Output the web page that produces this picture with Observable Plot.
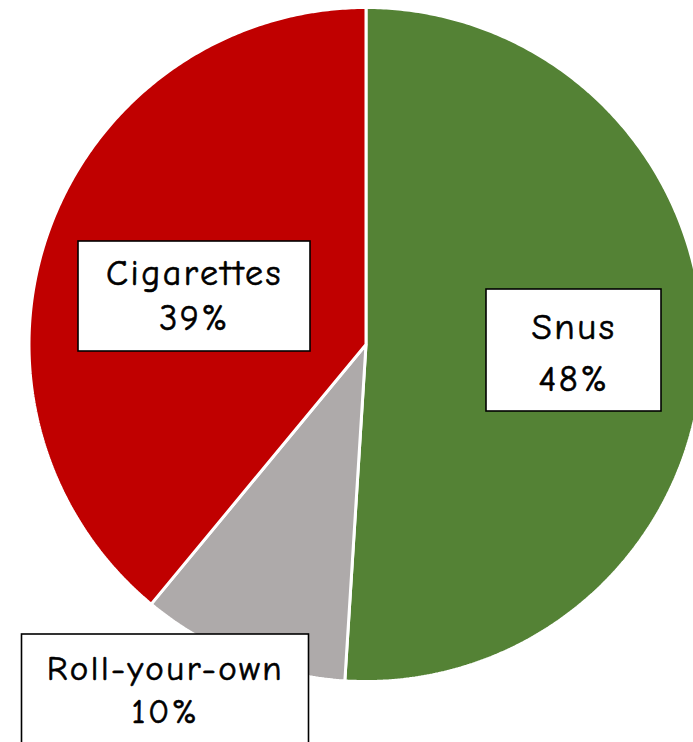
<!DOCTYPE html>
<html><head><meta charset="utf-8">
<script src="https://cdn.jsdelivr.net/npm/d3@7"></script>
<script src="https://cdn.jsdelivr.net/npm/@observablehq/plot@0.6"></script>
<style>body{margin:0;background:#fff;overflow:hidden}</style>
</head><body><div id="chart"></div>
<script>
// ---- data ----
const categories = ["Snus", "Roll-your-own", "Cigarettes"];
const shares = [51, 10, 39];            // slice sizes as drawn
const labelValues = ["48%", "10%", "39%"]; // printed labels
const colors = ["#548235", "#AEAAAA", "#C00000"];

// ---- layout ----
const W = 693, H = 742;
const pieLayout = {cx: 365.5, cy: 344, r: 337};
const labelLayout = [
  {cx: 573.5, cy: 350, w: 175, h: 122, fontSize: 37, lh: 1.4, ty: 348},
  {cx: 165, cy: 690, w: 287, h: 112, fontSize: 35, lh: 1.23, ty: 687},
  {cx: 194, cy: 296, w: 232, h: 110, fontSize: 36, lh: 1.25, ty: 293}
];
const FONT = "'Comic Sans MS', 'Comic Neue', 'Open Sans', sans-serif";

const rows = categories.map((name, i) => ({name, share: shares[i], label: labelValues[i], color: colors[i]}));
const arcs = d3.pie().sort(null).value(d => d.share)(rows);

const pts = [];
for (const a of arcs) {
  const {cx, cy, r} = pieLayout;
  pts.push({name: a.data.name, x: cx, y: cy});
  const n = Math.max(2, Math.ceil((a.endAngle - a.startAngle) / (Math.PI / 360)));
  for (let k = 0; k <= n; k++) {
    const t = a.startAngle + (a.endAngle - a.startAngle) * k / n;
    pts.push({name: a.data.name, x: cx + r * Math.sin(t), y: cy - r * Math.cos(t)});
  }
}

const labels = rows.map((d, i) => ({
  text: d.name + "\n" + d.label,
  ...labelLayout[i],
  x1: labelLayout[i].cx - labelLayout[i].w / 2,
  x2: labelLayout[i].cx + labelLayout[i].w / 2,
  y1: labelLayout[i].cy - labelLayout[i].h / 2,
  y2: labelLayout[i].cy + labelLayout[i].h / 2
}));

const chart = Plot.plot({
  width: W, height: H,
  margin: 0,
  x: {domain: [0, W], range: [0, W], axis: null},
  y: {domain: [0, H], range: [0, H], axis: null},
  color: {domain: categories, range: colors},
  style: {fontFamily: FONT, background: "white", letterSpacing: "2.5px"},
  marks: [
    Plot.line(pts, {x: "x", y: "y", z: "name", fill: "name", stroke: "white", strokeWidth: 3, curve: "linear-closed", strokeLinejoin: "miter"}),
    Plot.rect(labels, {x1: "x1", x2: "x2", y1: "y1", y2: "y2", fill: "white", stroke: "black", strokeWidth: 1.6}),
    ...labels.map(l => Plot.text([l], {x: "cx", y: "ty", text: "text", fontSize: l.fontSize, lineHeight: l.lh, fill: "black", stroke: "black", strokeWidth: 0.6, fontFamily: FONT, textAnchor: "middle"}))
  ]
});
document.getElementById("chart").appendChild(chart);
</script>
</body></html>
